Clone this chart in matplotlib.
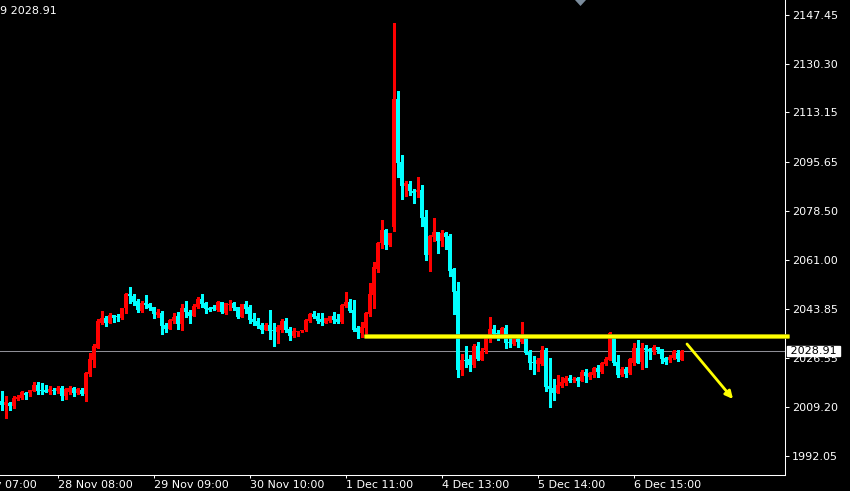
import matplotlib
matplotlib.use('Agg')
import matplotlib.pyplot as plt
from matplotlib.patches import Polygon
import numpy as np

# H1 candles, oldest first (open / high / low / close)
opens = [
    2011.43, 2010.02, 2010.72, 2009.67, 2012.13, 2012.49, 2014.25, 2014.25, 2014.95, 2017.07,
    2015.31, 2015.31, 2014.60, 2015.31, 2014.95, 2016.01, 2013.19, 2014.60, 2016.01, 2014.25,
    2015.31, 2013.90, 2020.95, 2025.88, 2030.11, 2038.92, 2040.69, 2038.92, 2041.74, 2041.39,
    2040.69, 2044.21, 2049.14, 2048.44, 2046.68, 2043.15, 2045.97, 2045.62, 2044.56, 2041.74,
    2042.45, 2038.22, 2036.81, 2039.63, 2041.39, 2038.57, 2044.21, 2042.80, 2041.39, 2044.56,
    2047.38, 2045.97, 2044.21, 2044.56, 2043.50, 2046.32, 2042.45, 2045.27, 2045.97, 2044.56,
    2041.04, 2045.62, 2044.56, 2040.33, 2039.63, 2038.22, 2036.46, 2038.22, 2036.46, 2035.75,
    2036.46, 2039.63, 2036.81, 2034.34, 2035.75, 2036.10, 2036.46, 2039.63, 2042.10, 2041.39,
    2040.33, 2038.92, 2039.63, 2041.39, 2040.33, 2039.28, 2044.91, 2046.32, 2043.50, 2037.16,
    2035.40, 2037.16, 2042.10, 2048.79, 2057.95, 2067.11, 2071.69, 2066.41, 2072.75, 2117.85,
    2095.65, 2087.20, 2087.90, 2085.44, 2085.08, 2085.79, 2076.27, 2062.88, 2069.23, 2070.99,
    2067.82, 2070.64, 2069.58, 2057.95, 2050.20, 2022.36, 2025.88, 2026.23, 2024.12, 2030.82,
    2025.88, 2029.41, 2034.69, 2036.81, 2035.40, 2035.05, 2037.16, 2032.23, 2031.52, 2033.28,
    2032.23, 2033.64, 2028.70, 2025.18, 2024.47, 2024.47, 2029.41, 2016.72, 2016.01, 2014.25,
    2016.72, 2017.77, 2019.54, 2018.83, 2019.54, 2018.48, 2021.65, 2019.89, 2020.59, 2023.06,
    2021.65, 2024.47, 2025.88, 2033.99, 2025.18, 2020.59, 2022.71, 2021.30, 2024.82, 2030.11,
    2025.18, 2030.11, 2029.76, 2029.05, 2030.46, 2029.76, 2026.59, 2025.88, 2026.59, 2028.35,
    2025.88,
]
highs = [
    2014.95, 2013.19, 2011.08, 2013.19, 2013.54, 2014.95, 2014.60, 2015.31, 2018.13, 2018.13,
    2017.77, 2017.07, 2016.72, 2016.01, 2016.72, 2016.72, 2016.01, 2016.72, 2016.36, 2016.01,
    2016.01, 2021.65, 2028.35, 2031.52, 2040.33, 2043.15, 2041.39, 2042.45, 2041.74, 2042.10,
    2044.21, 2049.50, 2051.61, 2049.14, 2047.38, 2046.68, 2048.79, 2045.97, 2044.56, 2043.86,
    2043.15, 2038.92, 2040.33, 2042.45, 2042.80, 2045.62, 2046.68, 2043.50, 2045.62, 2048.09,
    2049.14, 2046.32, 2044.56, 2045.27, 2046.68, 2046.32, 2045.97, 2047.03, 2046.32, 2044.56,
    2045.62, 2046.68, 2045.27, 2042.45, 2040.69, 2038.92, 2038.92, 2043.50, 2038.92, 2038.22,
    2040.33, 2040.69, 2037.51, 2037.16, 2036.10, 2036.46, 2040.33, 2042.45, 2043.15, 2042.45,
    2042.45, 2040.69, 2041.39, 2042.80, 2042.10, 2045.62, 2049.85, 2047.38, 2047.03, 2037.87,
    2039.28, 2042.80, 2053.02, 2060.42, 2067.46, 2075.22, 2072.04, 2070.64, 2144.64, 2120.67,
    2098.12, 2088.96, 2088.96, 2086.14, 2090.37, 2087.55, 2078.74, 2069.93, 2075.92, 2070.99,
    2071.69, 2070.99, 2070.28, 2058.30, 2053.37, 2028.00, 2030.82, 2027.64, 2031.52, 2032.23,
    2030.11, 2033.99, 2041.04, 2038.22, 2036.46, 2037.51, 2038.22, 2033.99, 2033.28, 2033.99,
    2039.28, 2033.64, 2029.41, 2027.29, 2026.59, 2030.82, 2030.11, 2026.59, 2019.18, 2020.59,
    2019.89, 2020.24, 2020.59, 2019.89, 2019.89, 2022.36, 2022.71, 2021.65, 2023.41, 2024.12,
    2025.18, 2026.94, 2035.75, 2033.99, 2027.64, 2023.41, 2023.41, 2026.59, 2031.87, 2032.93,
    2031.87, 2031.17, 2030.11, 2031.17, 2030.46, 2029.76, 2026.94, 2027.64, 2029.41, 2029.41,
    2029.41,
]
lows = [
    2008.26, 2005.43, 2008.26, 2008.96, 2011.78, 2012.13, 2012.13, 2013.19, 2014.95, 2013.90,
    2013.90, 2014.60, 2013.90, 2013.90, 2014.25, 2011.78, 2012.13, 2013.90, 2013.19, 2013.90,
    2013.54, 2011.43, 2020.24, 2023.41, 2030.11, 2038.57, 2037.87, 2038.92, 2039.28, 2039.63,
    2040.33, 2042.45, 2045.97, 2045.27, 2042.80, 2042.80, 2044.21, 2043.50, 2040.69, 2041.04,
    2035.05, 2035.75, 2036.81, 2038.92, 2036.81, 2036.46, 2041.04, 2038.92, 2041.39, 2044.21,
    2044.56, 2042.45, 2043.15, 2043.50, 2043.15, 2042.45, 2042.10, 2043.50, 2043.50, 2040.69,
    2041.04, 2042.45, 2038.92, 2038.22, 2037.16, 2035.40, 2036.46, 2033.28, 2030.82, 2031.87,
    2035.75, 2035.75, 2032.93, 2033.99, 2034.34, 2035.75, 2036.10, 2039.28, 2040.69, 2038.92,
    2038.22, 2038.92, 2039.28, 2038.92, 2038.92, 2038.92, 2044.56, 2042.80, 2036.10, 2033.64,
    2033.99, 2034.34, 2041.39, 2044.21, 2056.89, 2065.35, 2065.00, 2066.05, 2071.34, 2090.37,
    2082.62, 2083.67, 2084.03, 2081.21, 2083.32, 2073.10, 2061.12, 2057.24, 2067.82, 2063.59,
    2066.05, 2065.00, 2055.48, 2042.10, 2019.89, 2020.59, 2023.41, 2022.00, 2023.41, 2025.88,
    2025.88, 2028.35, 2032.23, 2033.99, 2032.93, 2034.69, 2030.11, 2030.46, 2031.17, 2030.46,
    2031.87, 2028.00, 2022.71, 2020.95, 2022.00, 2024.12, 2014.95, 2009.31, 2011.78, 2014.25,
    2016.36, 2017.07, 2018.13, 2018.13, 2016.72, 2018.48, 2018.13, 2019.18, 2019.89, 2019.89,
    2021.30, 2024.12, 2025.88, 2024.12, 2019.89, 2020.24, 2019.89, 2020.95, 2024.12, 2024.82,
    2022.71, 2023.41, 2026.23, 2028.00, 2028.35, 2024.82, 2024.47, 2025.18, 2026.23, 2025.53,
    2025.88,
]
closes = [
    2010.02, 2011.08, 2009.67, 2012.49, 2012.84, 2014.60, 2013.54, 2015.31, 2017.07, 2014.95,
    2014.95, 2014.60, 2015.66, 2014.95, 2016.01, 2013.19, 2015.66, 2016.01, 2014.25, 2015.66,
    2013.90, 2021.30, 2026.23, 2030.82, 2039.63, 2040.69, 2038.92, 2041.74, 2040.69, 2041.04,
    2044.21, 2049.14, 2048.44, 2046.32, 2043.50, 2045.97, 2045.27, 2044.21, 2042.10, 2042.80,
    2037.87, 2036.81, 2039.98, 2041.04, 2038.57, 2044.21, 2042.80, 2041.39, 2044.91, 2047.38,
    2045.62, 2043.86, 2043.50, 2043.86, 2046.32, 2042.80, 2045.97, 2045.62, 2044.21, 2041.04,
    2045.62, 2043.86, 2039.98, 2039.28, 2037.87, 2036.46, 2038.22, 2036.10, 2036.10, 2037.51,
    2039.63, 2036.46, 2034.34, 2036.10, 2036.10, 2036.10, 2039.98, 2042.10, 2041.04, 2039.63,
    2039.28, 2040.69, 2041.39, 2039.98, 2039.28, 2045.27, 2046.32, 2043.15, 2036.46, 2035.75,
    2037.51, 2042.45, 2049.14, 2058.65, 2067.11, 2071.69, 2066.41, 2070.64, 2117.85, 2095.30,
    2087.20, 2088.25, 2085.44, 2084.73, 2085.79, 2075.92, 2062.88, 2069.58, 2070.99, 2067.82,
    2070.64, 2069.23, 2057.24, 2049.85, 2022.36, 2025.88, 2025.53, 2024.12, 2030.82, 2026.23,
    2029.05, 2033.64, 2036.81, 2035.05, 2035.05, 2037.16, 2031.87, 2031.87, 2033.28, 2032.23,
    2033.99, 2028.35, 2024.82, 2024.82, 2025.88, 2029.41, 2016.36, 2015.66, 2014.25, 2017.07,
    2018.13, 2019.54, 2018.48, 2019.18, 2018.48, 2021.65, 2020.24, 2021.30, 2023.06, 2021.65,
    2024.82, 2026.23, 2035.40, 2024.82, 2020.59, 2022.71, 2020.95, 2026.23, 2030.11, 2024.82,
    2030.11, 2029.41, 2029.05, 2030.46, 2029.41, 2026.23, 2025.18, 2026.94, 2029.05, 2026.23,
    2028.91,
]

# time axis labels (bar index -> text)
time_pos = [-10, 14, 38, 62, 86, 110, 134, 158]
time_labels = ['27 Nov 07:00', '28 Nov 08:00', '29 Nov 09:00', '30 Nov 10:00',
               '1 Dec 11:00', '4 Dec 13:00', '5 Dec 14:00', '6 Dec 15:00']

# price scale
price_ticks = [1992.05, 2009.20, 2026.55, 2043.85, 2061.00,
               2078.50, 2095.65, 2113.15, 2130.30, 2147.45]
price_min, price_max = 1985.36, 2152.74

current_price = 2028.91
level_price = 2034.34
level_start = 90.5
arrow_start = (171.25, 2031.52)
arrow_end = (182.75, 2012.13)

BULL = '#FF0000'
BEAR = '#00FFFF'
YELLOW = '#FFFF00'

plt.rcParams['font.family'] = 'DejaVu Sans'

fig = plt.figure(figsize=(8.5, 4.91), dpi=100, facecolor='black')
ax = fig.add_axes([0, 16 / 491, 785 / 850, 475 / 491], facecolor='black')

o = np.array(opens)
h = np.array(highs)
l = np.array(lows)
c = np.array(closes)
x = np.arange(len(o))
cols = np.where(c >= o, BULL, BEAR)

# wicks and bodies
ax.vlines(x, l, h, colors=cols, lw=0.8, antialiased=False, zorder=2)
body_bot = np.minimum(o, c)
body_h = np.maximum(np.abs(c - o), 0.35)
ax.bar(x, body_h, bottom=body_bot, width=0.82, color=cols, linewidth=0,
       antialiased=False, zorder=3)

# current price line
ax.axhline(current_price, color='#8e8e96', lw=0.75, zorder=1)

# yellow support line, runs a bit over the price scale
ax.plot([level_start, 196.75], [level_price, level_price], color='#B8B800',
        lw=3.4, solid_capstyle='butt', clip_on=False, zorder=4)
ax.plot([level_start, 196.75], [level_price, level_price], color=YELLOW,
        lw=2.2, solid_capstyle='butt', clip_on=False, zorder=5)

# arrow
ax.annotate('', xy=arrow_end, xytext=arrow_start,
            arrowprops=dict(arrowstyle='-|>', color=YELLOW, lw=2,
                            mutation_scale=11, shrinkA=0, shrinkB=0),
            zorder=5)

ax.set_xlim(-0.5, 195.75)
ax.set_ylim(price_min, price_max)

for side in ['top', 'left']:
    ax.spines[side].set_visible(False)
for side in ['right', 'bottom']:
    ax.spines[side].set_color('white')
    ax.spines[side].set_linewidth(0.75)

ax.yaxis.tick_right()
ax.set_yticks(price_ticks)
ax.set_yticklabels([f'{p:.2f}' for p in price_ticks])
ax.tick_params(axis='y', colors='white', length=3, width=0.75, pad=2.2,
               labelsize=8)

ax.set_xticks(time_pos[1:])
ax.set_xticklabels([])
ax.tick_params(axis='x', colors='white', length=2.2, width=0.75)
for pos, lab in zip(time_pos, time_labels):
    ax.annotate(lab, xy=(pos, 0), xycoords=('data', 'axes fraction'),
                xytext=(0, -3.5), textcoords='offset points',
                ha='left', va='top', color='white', fontsize=8,
                annotation_clip=False)

# current price tag on the scale
ax.annotate(f' {current_price:.2f} ', xy=(1, current_price),
            xycoords=('axes fraction', 'data'), xytext=(1.5, 0),
            textcoords='offset points', ha='left', va='center',
            color='black', fontsize=8, annotation_clip=False, zorder=10,
            bbox=dict(boxstyle='square,pad=0', fc='white', ec='white'))

# header text and chart-shift marker
fig.text(0.0, 1 - 13.5 / 491, f'9 {current_price:.2f}', color='white',
         fontsize=8, va='baseline', ha='left')
fig.add_artist(Polygon([[575 / 850, 1], [586 / 850, 1], [580.5 / 850, 1 - 6 / 491]],
                       closed=True, transform=fig.transFigure,
                       facecolor='#7b8c9c', edgecolor='none'))

fig.savefig('out.png', dpi=100, facecolor='black')
